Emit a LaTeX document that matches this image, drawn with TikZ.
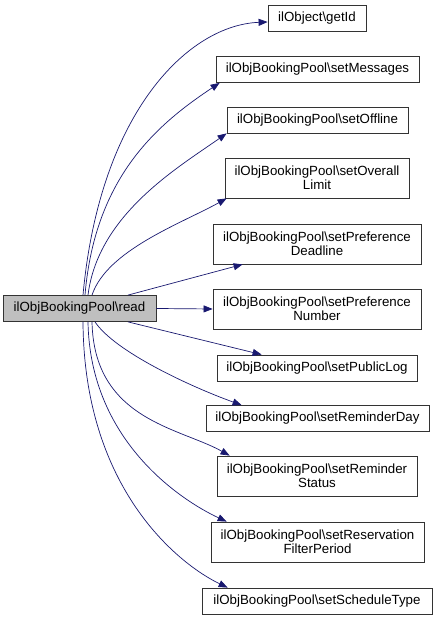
\documentclass[tikz,border=0pt]{standalone}
\usepackage{fontspec}
\setmainfont{Liberation Sans}
\usepackage{tikz}
\usetikzlibrary{arrows.meta}

\definecolor{callblue}{RGB}{25,25,112}
\definecolor{srcgray}{RGB}{191,191,191}

\tikzset{
  fn/.style={draw=black!80, line width=0.8pt, fill=white, inner xsep=5pt,
    minimum height=26pt, align=center, font=\fontsize{13.3}{14}\selectfont},
  fntwo/.style={fn, minimum height=40pt},
  call/.style={draw=callblue, line width=0.7pt,
    -{Triangle[length=9pt,width=7pt,fill=callblue]}},
}

\begin{document}
\begin{tikzpicture}[x=1pt,y=1pt]
        \useasboundingbox (0,0) rectangle (436,620);

        \node[fn, fill=srcgray, minimum width=153pt] (read) at (79.5,311.5) {ilObjBookingPool\textbackslash read};

        \node[fn, minimum width=98pt] (getid) at (317,601.5) {ilObject\textbackslash getId};
        \node[fn, minimum width=203pt] (msgs) at (317.5,550.5) {ilObjBookingPool\textbackslash setMessages};
        \node[fn, minimum width=181pt] (offline) at (317.5,500) {ilObjBookingPool\textbackslash setOffline};
        \node[fntwo, minimum width=184pt] (overall) at (317,442) {ilObjBookingPool\textbackslash setOverall\\Limit};
        \node[fntwo, minimum width=208pt] (deadline) at (317,376) {ilObjBookingPool\textbackslash setPreference\\Deadline};
        \node[fntwo, minimum width=208pt] (number) at (317,311) {ilObjBookingPool\textbackslash setPreference\\Number};
        \node[fn, minimum width=200pt] (publog) at (317,252) {ilObjBookingPool\textbackslash setPublicLog};
        \node[fn, minimum width=223pt] (remday) at (317.5,201.5) {ilObjBookingPool\textbackslash setReminderDay};
        \node[fntwo, minimum width=200pt] (remstatus) at (317,144) {ilObjBookingPool\textbackslash setReminder\\Status};
        \node[fntwo, minimum width=213pt] (reserv) at (317.5,78) {ilObjBookingPool\textbackslash setReservation\\FilterPeriod};
        \node[fn, minimum width=230pt] (sched) at (317,19) {ilObjBookingPool\textbackslash setScheduleType};

        % calls going up
        \draw[call] ([xshift=3.5pt]read.north) .. controls +(17,185) and +(-78,-3) .. ([yshift=-3.5pt]getid.west);
        \draw[call] ([xshift=5.5pt]read.north) .. controls +(10,120) and +(-60,-40) .. ([xshift=4pt]msgs.south west);
        \draw[call] ([xshift=8.5pt]read.north) .. controls +(10,80) and +(-50,-35) .. (offline.south west);
        \draw[call] ([xshift=12.5pt]read.north) .. controls +(15,45) and +(-45,-25) .. ([xshift=2pt]overall.south west);
        \draw[call] ([xshift=48.5pt]read.north) -- ([xshift=30pt]deadline.south west);
        \draw[call] (read.east) -- (number.west);

        % calls going down
        \draw[call] ([xshift=48.5pt]read.south) -- ([xshift=45pt]publog.north west);
        \draw[call] ([xshift=15.5pt]read.south) .. controls +(20,-30) and +(-50,18) .. ([xshift=36pt]remday.north west);
        \draw[call] ([xshift=12.5pt]read.south) .. controls +(2,-98) and +(-50,28) .. ([xshift=13pt]remstatus.north west);
        \draw[call] ([xshift=8.5pt]read.south) .. controls +(2,-118) and +(-47,22) .. ([xshift=16pt]reserv.north west);
        \draw[call] ([xshift=3.5pt]read.south) .. controls +(1,-168) and +(-48,23) .. ([xshift=26pt]sched.north west);
\end{tikzpicture}
\end{document}
